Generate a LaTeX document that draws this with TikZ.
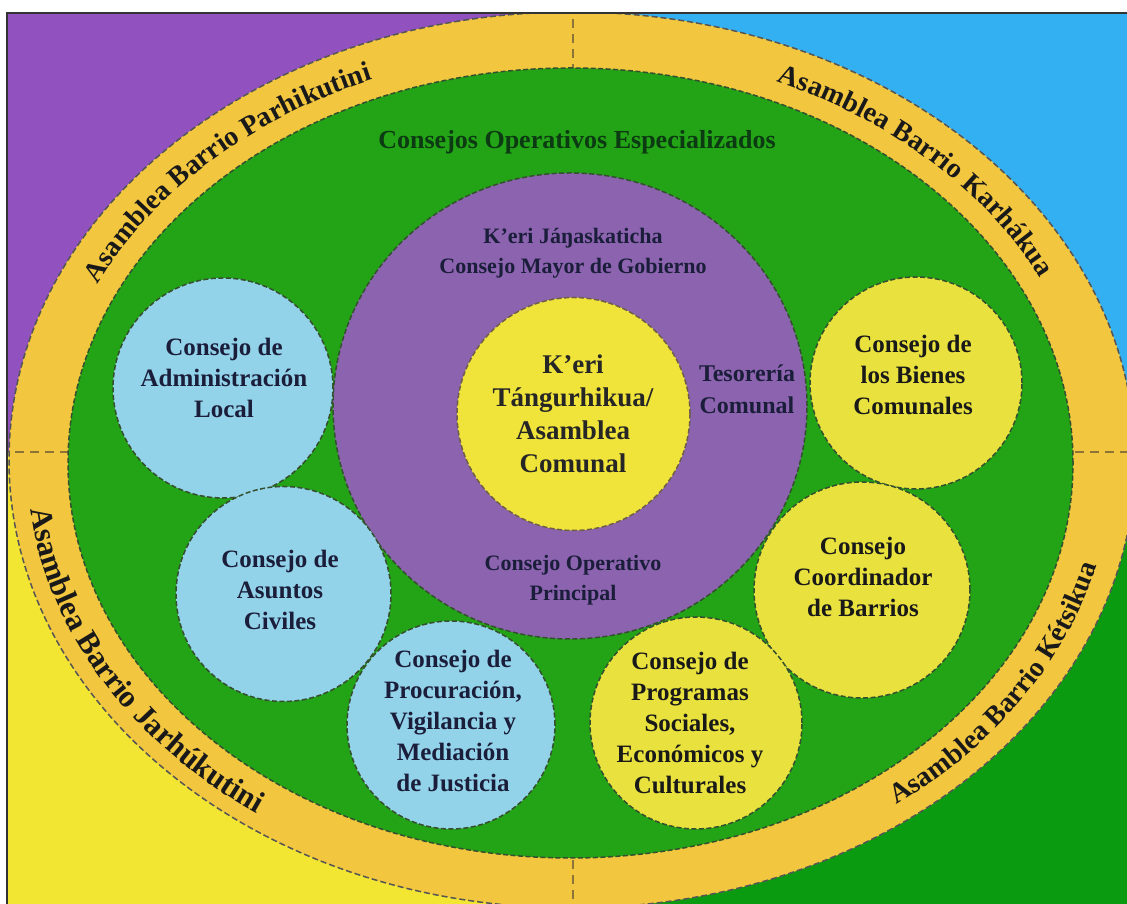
\documentclass[tikz,border=0pt]{standalone}
\usepackage{fontspec}
\setmainfont{Liberation Serif}
\usetikzlibrary{decorations.text}
\definecolor{qpurple}{HTML}{9152BF}
\definecolor{qblue}{HTML}{33B0F2}
\definecolor{qyellow}{HTML}{F2E633}
\definecolor{qgreen}{HTML}{0B9B10}
\definecolor{ringc}{HTML}{F2C63E}
\definecolor{greenell}{HTML}{23A316}
\definecolor{purpc}{HTML}{8B63AF}
\definecolor{yellc}{HTML}{F0E43A}
\definecolor{bluec}{HTML}{93D3EA}
\definecolor{yelltwo}{HTML}{E9E23E}
\definecolor{dashc}{HTML}{34502E}
\definecolor{ringdash}{HTML}{555555}
\definecolor{divc}{HTML}{8C7338}
\definecolor{innerdash}{HTML}{6E5E48}
\definecolor{navy}{HTML}{1B1E3A}
\definecolor{dkgreen}{HTML}{0C3A12}
\newcommand\ringfont{\fontsize{28}{30}\selectfont\bfseries}
\newcommand\ringfontbig{\fontsize{31}{33}\selectfont\bfseries}
\begin{document}
\begin{tikzpicture}[x=1pt,y=1pt,
  bord/.style={draw=dashc, line width=1.5pt, dash pattern=on 5pt off 2.5pt},
  ringbord/.style={draw=ringdash, line width=1.5pt, dash pattern=on 6pt off 3pt},
  divline/.style={draw=divc, line width=2pt, dash pattern=on 9pt off 6pt},
  ctext/.style={align=center, font=\fontsize{25}{31}\selectfont\bfseries, text=navy, inner sep=0pt},
  btext/.style={align=center, font=\fontsize{27}{33}\selectfont\bfseries, text=black!85, inner sep=0pt},
  ptext/.style={align=center, font=\fontsize{22}{30}\selectfont\bfseries, text=navy, inner sep=0pt},
  gtext/.style={font=\fontsize{26}{30}\selectfont\bfseries, text=dkgreen, inner sep=0pt},
  ringtext/.style={decorate, decoration={text along path, text align=center, text color=black!90}}
]
\useasboundingbox (0,0) rectangle (1127,904);
\begin{scope}
  \clip (7,0) rectangle (1127,891);
  \fill[qpurple] (7,452) rectangle (573,891);
  \fill[qblue] (573,452) rectangle (1127,891);
  \fill[qyellow] (7,0) rectangle (573,452);
  \fill[qgreen] (573,0) rectangle (1127,452);
  \path[fill=ringc] (572,444) ellipse [x radius=563, y radius=448];
  \begin{scope}
    \clip (572,444) ellipse [x radius=563, y radius=448];
    \draw[divline] (573,900) -- (573,820);
    \draw[divline] (573,-10) -- (573,60);
    \draw[divline] (0,452) -- (80,452);
    \draw[divline] (1060,452) -- (1140,452);
  \end{scope}
  \draw[ringbord] (572,444) ellipse [x radius=563, y radius=448];
  \draw[bord, fill=greenell] (570.5,441) ellipse [x radius=502.5, y radius=395];
  % ring texts
  \path[ringtext, decoration={text={|\ringfont|Asamblea Barrio Parhikutini}}]
    (571,443) ++(172:524 and 412) arc[start angle=172, end angle=98, x radius=524, y radius=412];
  \path[ringtext, decoration={text={|\ringfont|Asamblea Barrio Karhákua}}]
    (571,443) ++(82:524 and 412) arc[start angle=82, end angle=8, x radius=524, y radius=412];
  \path[ringtext, decoration={text={|\ringfontbig|Asamblea Barrio Jarhúkutini}}]
    (571,443) ++(168:544 and 432) arc[start angle=168, end angle=250, x radius=544, y radius=432];
  \path[ringtext, decoration={text={|\ringfont|Asamblea Barrio Kétsikua}}]
    (571,443) ++(291:542 and 430) arc[start angle=291, end angle=365, x radius=542, y radius=430];
\end{scope}
\draw[black!80, line width=1.5pt] (7,0) -- (7,891) -- (1127,891);
% central circles
\draw[bord, fill=purpc] (570,498) ellipse [x radius=237, y radius=233];
\draw[draw=innerdash, line width=1.5pt, dash pattern=on 5pt off 2.5pt, fill=yellc] (573.5,490) circle [radius=116.5];
% outer councils
\draw[bord, fill=bluec] (223,516) circle [radius=110];
\draw[bord, fill=bluec] (283.5,310) circle [radius=107.5];
\draw[bord, fill=bluec] (451,179) circle [radius=104];
\draw[bord, fill=yelltwo] (916,521) circle [radius=106];
\draw[bord, fill=yelltwo] (862,314) circle [radius=108];
\draw[bord, fill=yelltwo] (696,181) circle [radius=106];
% texts
\node[gtext] (coe) at (577,762) {Consejos Operativos Especializados};
\node[ptext] (mayor) at (573,651) {K’eri Jáŋaskaticha\\Consejo Mayor de Gobierno};
\node[btext] (asam) at (573,490) {K’eri\\Tángurhikua/\\Asamblea\\Comunal};
\node[ptext, font=\fontsize{24}{32}\selectfont\bfseries] (teso) at (747,515) {Tesorería\\Comunal};
\node[ptext] (cop) at (573,324) {Consejo Operativo\\Principal};
\node[ctext] (admin) at (224,526) {Consejo de\\Administración\\Local};
\node[ctext] (civiles) at (280,314) {Consejo de\\Asuntos\\Civiles};
\node[ctext] (procur) at (453,183) {Consejo de\\Procuración,\\Vigilancia y\\Mediación\\de Justicia};
\node[ctext, text=black!90] (bienes) at (913,529) {Consejo de\\los Bienes\\Comunales};
\node[ctext, text=black!90] (coord) at (863,327) {Consejo\\Coordinador\\de Barrios};
\node[ctext, text=black!90] (progr) at (690,181) {Consejo de\\Programas\\Sociales,\\Económicos y\\Culturales};
\end{tikzpicture}
\end{document}
